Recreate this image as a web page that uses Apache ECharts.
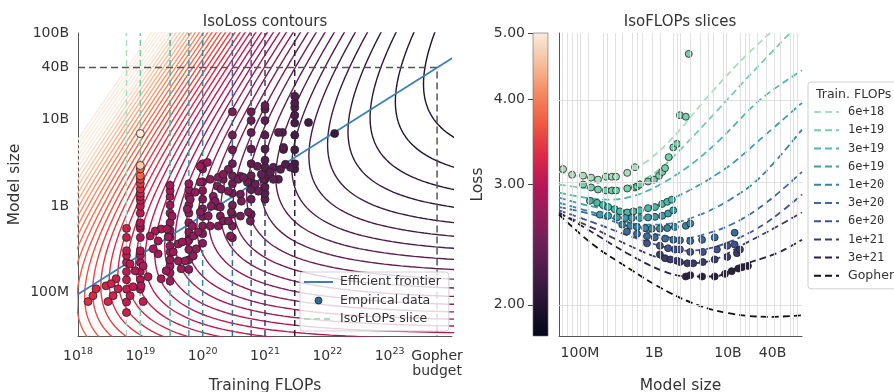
<!DOCTYPE html>
<html><head><meta charset="utf-8">
<script src="https://cdn.jsdelivr.net/npm/echarts@6/dist/echarts.min.js"></script>
<style>html,body{margin:0;padding:0;background:#fff}#c{width:894px;height:392px}</style>
</head><body><div id="c"></div>
<script>
// ---------------- DATA ----------------
const budgetLabels = ['6e+18','1e+19','3e+19','6e+19','1e+20','3e+20','6e+20','1e+21','3e+21'];
const budgetFlops = [6e18,1e19,3e19,6e19,1e20,3e20,6e20,1e21,3e21];
const gopherFlops = 5.76e23;
const gopherParams = 4e10;

// IsoFLOP slice runs: model size (millions) and final loss
const slice6e18N = [59,78,110,141,175,224,270,306,435,553];
const slice6e18L = [3.16,3.10,3.09,3.07,3.05,3.08,3.08,3.08,3.12,3.18];
const slice1e19N = [110,141,175,224,270,306,435,553,590,643,830,1000,1170,1290,1410,1580,1820,2040,2240,2690,2950,6900];
const slice1e19L = [3.00,2.97,2.95,2.94,2.94,2.94,2.96,2.97,2.98,3.00,3.03,3.05,3.09,3.13,3.17,3.29,3.40,3.44,3.79,3.77,4.66,5.40];
const slice3e19N = [136,170,204,240,295,347,435,525,643,830,1030,1290,1510,1740];
const slice3e19L = [2.84,2.82,2.80,2.78,2.76,2.74,2.73,2.74,2.75,2.77,2.78,2.81,2.83,2.85];
const slice6e19N = [186,240,316,407,501,643,830,1030,1290,1550,1820];
const slice6e19L = [2.71,2.70,2.685,2.68,2.68,2.68,2.685,2.69,2.70,2.72,2.75];
const slice1e20N = [372,479,589,759,933,1200,1510,1910,2690,3090];
const slice1e20L = [2.62,2.61,2.60,2.59,2.585,2.585,2.59,2.60,2.61,2.63];
const slice3e20N = [431,589,804,1023,1413,1820,2239,3090,4467,6607,12300];
const slice3e20L = [2.56,2.54,2.52,2.51,2.50,2.49,2.485,2.48,2.49,2.51,2.55];
const slice6e20N = [804,1200,1550,1910,2240,3090,4570,7080,9770,12300];
const slice6e20L = [2.46,2.44,2.42,2.41,2.41,2.39,2.39,2.41,2.44,2.45];
const slice1e21N = [1200,1410,1660,2040,2240,2820,3390,4570,6610,9770,13200,14500];
const slice1e21L = [2.37,2.34,2.33,2.32,2.31,2.30,2.30,2.31,2.33,2.35,2.38,2.41];
const slice3e21N = [2690,3090,4470,6610,9120,11200,13800,15500,18600];
const slice3e21L = [2.20,2.21,2.20,2.20,2.22,2.24,2.26,2.27,2.28];

// fitted IsoFLOP parabolas (read points): model size (millions), loss
const curveLabels = ['6e+18','1e+19','3e+19','6e+19','1e+20','3e+20','6e+20','1e+21','3e+21','Gopher'];
const curve6e18N = [52,100,186,405,883,1920,4890,14500,37000];
const curve6e18L = [3.13,3.08,3.06,3.11,3.27,3.54,3.99,4.54,5.0];
const curve1e19N = [52,100,218,474,1030,2245,5710,19800,68900];
const curve1e19L = [3.00,2.97,2.95,2.99,3.12,3.37,3.75,4.34,5.0];
const curve3e19N = [52,117,254,553,1205,3060,7800,27000,100000];
const curve3e19L = [2.92,2.87,2.85,2.89,3.00,3.20,3.49,3.99,4.41];
const curve6e19N = [52,136,347,755,1640,4190,10600,27000,100000];
const curve6e19L = [2.87,2.79,2.75,2.76,2.85,3.00,3.20,3.49,3.95];
const curve1e20N = [52,150,347,755,1640,4190,10600,27000,100000];
const curve1e20L = [2.82,2.73,2.66,2.62,2.63,2.71,2.85,3.07,3.61];
const curve3e20N = [52,150,431,1205,2245,5710,14500,37000,100000];
const curve3e20L = [2.78,2.71,2.61,2.53,2.50,2.55,2.66,2.85,3.13];
const curve6e20N = [52,150,431,1205,2620,5710,14500,37000,100000];
const curve6e20L = [2.75,2.64,2.53,2.44,2.40,2.42,2.51,2.66,2.90];
const curve1e21N = [52,150,431,1205,3060,6670,16000,37000,100000];
const curve1e21L = [2.72,2.59,2.45,2.34,2.30,2.33,2.45,2.57,2.73];
const curve3e21N = [52,150,431,1205,2790,6270,16000,45900,100000];
const curve3e21L = [2.73,2.55,2.38,2.25,2.20,2.20,2.29,2.38,2.49];
const curveGopherN = [52,150,431,1205,3360,9680,37000,100000];
const curveGopherL = [2.71,2.45,2.27,2.12,2.01,1.945,1.92,1.93];

// other empirical runs (left panel): FLOPs, params, loss
const extraFlops = [1.45e18,1.74e18,1.95e18,2.82e18,3.03e18,3.66e18,4.39e18,4.08e18,3.4e18,6.85e18,7.66e18,1.03e19,1.11e19,1.33e19,8.24e18,6.85e18,1.11e19,2.16e19,2.6e19,1.93e19,1.61e19,1.93e19,2.8e19,3.37e19,4.06e19,4.53e19,5.25e19,7.06e19,7.89e19,5.86e19,4.06e19,7.06e19,8.49e19,2.16e19,1.73e19,1.44e19,3.24e19,5.65e19,6.32e19,7.6e19,9.14e19,9.14e19,1.19e20,1.32e20,1.72e20,1.48e20,1.72e20,1.92e20,1.78e20,2.14e20,2.58e20,4.03e20,5.21e20,7.55e20,9.42e20,1.09e21,1.36e21,1.64e21,1.91e21,1.98e21,4.99e21,1.31e22,1.78e20,2.14e20,3.74e20,4.5e20,7.01e20,7.83e20,1.99e20,2.58e20,4.03e20,4.18e20,1.59e20,1.37e20,1.92e20,2.88e20,5.41e20,2.14e20,5.82e20,1.64e21,1.98e21,2.56e21,8.75e20,1.22e21,1.36e21,1.77e21,2.13e21,9.14e19,1.32e20,1.23e20,2.58e20,2.78e20,4.03e20,2.7e19,4.7e19,6.81e19];
const extraParams = [7.9e7,9.25e7,1.11e8,1.2e8,7.9e7,9.25e7,1.11e8,1.45e8,1.27e8,9.25e7,1.17e8,1.2e8,7.9e7,1.53e8,1.79e8,2.15e8,2.04e8,1.45e8,1.79e8,2.81e8,3.21e8,3.96e8,4.41e8,2.96e8,2.33e8,1.89e8,2.33e8,2.66e8,3.21e8,3.96e8,3.66e8,4.52e8,5.02e8,5.44e8,5.16e8,4.52e8,7.67e8,9.25e8,1.2e9,1.45e9,1.89e9,2.88e9,3.2e9,2.04e9,1.7e9,1.3e9,1.0e9,7.67e8,5.89e8,2.04e9,2.66e9,2.21e9,1.89e9,2.88e9,2.04e9,2.33e9,2.81e9,2.04e9,7.1e9,4.52e9,9.25e9,6.9e9,2.15e9,2.33e9,2.04e9,2.15e9,1.79e9,1.49e9,1.57e9,1.49e9,1.37e9,1.14e9,1.14e9,1.0e9,9.75e8,8.53e8,8.53e8,6.73e8,6.73e8,7.1e9,4.77e9,2.81e9,2.33e9,2.46e9,2.04e9,2.66e9,3.04e9,8.53e8,5.89e8,7.67e8,6.73e8,4.52e8,7.67e8,5.44e8,3.86e8,5.89e8];
const extraLoss = [3.35,3.3,3.25,3.2,3.25,3.2,3.15,3.15,3.17,3.1,3.05,3.0,3.1,2.95,3.0,3.05,2.97,2.9,2.85,2.85,2.9,2.88,2.82,2.8,2.8,2.82,2.77,2.72,2.7,2.74,2.78,2.7,2.68,2.88,2.92,2.93,2.78,2.72,2.72,2.72,2.72,2.8,2.78,2.66,2.6,2.62,2.58,2.58,2.6,2.58,2.58,2.5,2.46,2.42,2.38,2.36,2.34,2.35,2.33,2.3,2.2,2.12,2.62,2.6,2.52,2.5,2.44,2.43,2.58,2.56,2.52,2.52,2.6,2.62,2.58,2.56,2.5,2.6,2.52,2.36,2.32,2.3,2.4,2.36,2.36,2.33,2.31,2.66,2.66,2.64,2.6,2.63,2.55,2.85,2.78,2.72];

// efficient frontier end points
const frontierFlops = [1e18, 1e24];
const frontierParams = [9.6e7, 5.1e10];

// fitted parametric loss L(N,D) = E + A/N^alpha + B/D^beta, C = 6ND
const fitE = 1.69, fitA = 406.4, fitB = 410.7, fitAlpha = 0.34, fitBeta = 0.28;
// iso-loss contour levels (log-spaced)
const contourLevels = [1.905,1.950,1.995,2.042,2.089,2.138,2.188,2.239,2.291,2.344,2.399,2.455,2.512,2.570,2.630,2.692,2.754,2.818,2.884,2.951,3.020,3.090,3.162,3.236,3.311,3.388,3.467,3.548,3.631,3.715,3.802,3.890,3.981,4.074,4.169,4.266,4.365,4.467,4.571,4.677,4.786,4.898,5.012,5.129,5.248];

// tick labels
const leftXTicks = [1e18,1e19,1e20,1e21,1e22,1e23];
const leftYTickValues = [1e8,1e9,1e10,4e10,1e11];
const leftYTickLabels = ['100M','1B','10B','40B','100B'];
const rightXTickValues = [1e8,1e9,1e10,4e10];
const rightXTickLabels = ['100M','1B','10B','40B'];
const lossTicks = [2,3,4,5];
const lossMin = 1.8, lossMax = 5.0;
const contourColorMax = 4.7;
const rightGridSizesM = [57,67,78,91,100,128,205,232,297,370,505,590,688,940,1205,1800,2050,2250,3060,4200,5380,6250,8500,9600,14600,16900,19700,24500,33400,43000,50700,69000,75700,85000];

// ---------------- STYLE ----------------
const FONT = 'DejaVu Sans';
const TXT = '#333';
const rocketStops = ['#03051a','#221331','#451c47','#6a1f56','#921c5b','#b91657','#dd2c45','#ef5a41','#f4895f','#f6bf9b','#faebdd'];
const sliceColors = ['#a6dfbd','#74cfab','#4bb9aa','#3a9faa','#3585a3','#3a6b9e','#40528f','#3c3a6c','#2a2140','#111111'];

const lg = Math.log10;
function hex2rgb(h){return [parseInt(h.substr(1,2),16),parseInt(h.substr(3,2),16),parseInt(h.substr(5,2),16)];}
function rocket(t){
  t = Math.max(0, Math.min(1, t));
  const p = t * (rocketStops.length - 1), i = Math.min(Math.floor(p), rocketStops.length - 2), f = p - i;
  const a = hex2rgb(rocketStops[i]), b = hex2rgb(rocketStops[i+1]);
  return 'rgb(' + a.map((v,k)=>Math.round(v + (b[k]-v)*f)).join(',') + ')';
}
function lossColor(L, hi){ return rocket((lg(L) - lg(lossMin)) / (lg(hi || lossMax) - lg(lossMin))); }

function contourPoints(L){
  const pts = [];
  for (let i = 0; i <= 380; i++) {
    const lgN = 7.4 + i * 0.01, N = Math.pow(10, lgN);
    const rem = L - fitE - fitA / Math.pow(N, fitAlpha);
    if (rem <= 0) continue;
    const D = Math.pow(fitB / rem, 1 / fitBeta);
    const lgC = lg(6 * N * D);
    if (lgC > 26) continue;
    pts.push([lgC, lgN]);
  }
  return pts;
}

const sliceN = [slice6e18N,slice1e19N,slice3e19N,slice6e19N,slice1e20N,slice3e20N,slice6e20N,slice1e21N,slice3e21N];
const sliceL = [slice6e18L,slice1e19L,slice3e19L,slice6e19L,slice1e20L,slice3e20L,slice6e20L,slice1e21L,slice3e21L];
const curveN = [curve6e18N,curve1e19N,curve3e19N,curve6e19N,curve1e20N,curve3e20N,curve6e20N,curve1e21N,curve3e21N,curveGopherN];
const curveL = [curve6e18L,curve1e19L,curve3e19L,curve6e19L,curve1e20L,curve3e20L,curve6e20L,curve1e21L,curve3e21L,curveGopherL];

const series = [];
contourLevels.forEach((L, k) => {
  series.push({type:'line', name:'contour'+k, xAxisIndex:0, yAxisIndex:0, data:contourPoints(L),
    showSymbol:false, symbol:'none', silent:true, clip:true, z:1,
    lineStyle:{color:lossColor(L, contourColorMax), width:1.4}});
});
budgetFlops.forEach((c, i) => {
  series.push({type:'line', name: i===0 ? 'IsoFLOPs slice' : 'slice'+i, xAxisIndex:0, yAxisIndex:0,
    data:[[lg(c),7.5],[lg(c),11]], showSymbol:false, symbol:'none', silent:true, z:2,
    lineStyle:{color:sliceColors[i], width:1.5, type:[6,4]}});
});
series.push({type:'line', name:'gopher', xAxisIndex:0, yAxisIndex:0,
  data:[[18, lg(gopherParams)],[lg(gopherFlops), lg(gopherParams)],[lg(gopherFlops), 7.5]],
  showSymbol:false, symbol:'none', silent:true, z:3, lineStyle:{color:'#555', width:1.5, type:[7,4]}});
series.push({type:'line', name:'Efficient frontier', xAxisIndex:0, yAxisIndex:0,
  data: frontierFlops.map((c,i)=>[lg(c), lg(frontierParams[i])]), showSymbol:false, symbol:'none', z:3,
  lineStyle:{color:'#3a7fbd', width:1.8}});
const empPts = [];
sliceN.forEach((arr, i) => arr.forEach((n, j) => empPts.push([lg(budgetFlops[i]), lg(n*1e6), sliceL[i][j]])));
extraFlops.forEach((c, i) => empPts.push([lg(c), lg(extraParams[i]), extraLoss[i]]));
series.push({type:'scatter', name:'Empirical data', xAxisIndex:0, yAxisIndex:0, data:empPts, symbolSize:8, z:4,
  itemStyle:{color:(p)=>lossColor(p.data[2]), borderColor:'#222', borderWidth:0.8, opacity:1}});

series.push({type:'custom', name:'colorbar', xAxisIndex:1, yAxisIndex:1, data:[[0,0]], silent:true,
  renderItem:(params, api) => {
    const p0 = api.coord([0, lg(lossMax)]), p1 = api.coord([1, lg(lossMin)]);
    return {type:'rect', shape:{x:p0[0], y:p0[1], width:p1[0]-p0[0], height:p1[1]-p0[1]},
      style:{fill:new echarts.graphic.LinearGradient(0,1,0,0, rocketStops.map((c,i)=>({offset:i/(rocketStops.length-1), color:c}))), stroke:'#666', lineWidth:0.6}};
  }});

series.push({type:'line', name:'grid', xAxisIndex:2, yAxisIndex:2, data:[], silent:true,
  markLine:{silent:true, symbol:['none','none'], label:{show:false}, animation:false,
    lineStyle:{color:'#dcdcdc', width:0.9, type:'solid'},
    data: rightGridSizesM.map(m=>({xAxis:lg(m*1e6)})).concat(lossTicks.map(l=>({yAxis:lg(l)})))}});
curveN.forEach((arr, i) => {
  series.push({type:'line', name:curveLabels[i], xAxisIndex:2, yAxisIndex:2, smooth:0.35,
    data: arr.map((n,j)=>[lg(n*1e6), lg(curveL[i][j])]), showSymbol:false, symbol:'none', z:3, clip:true,
    lineStyle:{color:sliceColors[i], width:1.8, type:[7,4]}});
});
sliceN.forEach((arr, i) => {
  series.push({type:'scatter', name:'pts'+i, xAxisIndex:2, yAxisIndex:2, symbolSize:7, z:4, clip:true,
    data: arr.map((n,j)=>[lg(n*1e6), lg(sliceL[i][j])]),
    itemStyle:{color:sliceColors[i], borderColor:'#222', borderWidth:0.8, opacity:1}});
});

const supRich = {b:{fontSize:14, lineHeight:18, color:TXT, fontFamily:FONT}, s:{fontSize:9.5, lineHeight:4, verticalAlign:'top', color:TXT, fontFamily:FONT},
  g:{fontSize:14, lineHeight:18, color:TXT, fontFamily:FONT}, h:{fontSize:14, lineHeight:12, color:TXT, fontFamily:FONT}};

const option = {
  animation:false,
  backgroundColor:'#fff',
  textStyle:{fontFamily:FONT, color:TXT},
  title:[
    {text:'IsoLoss contours', left:265, top:15, textAlign:'center', padding:0, textStyle:{fontSize:15, fontWeight:'normal', color:TXT, fontFamily:FONT}},
    {text:'IsoFLOPs slices', left:680, top:15, textAlign:'center', padding:0, textStyle:{fontSize:15, fontWeight:'normal', color:TXT, fontFamily:FONT}},
    {text:'Train. FLOPs', left:816, top:88, padding:0, textStyle:{fontSize:12.5, fontWeight:'normal', color:TXT, fontFamily:FONT}}
  ],
  legend:[
    {data:[{name:'Efficient frontier'}, {name:'Empirical data', icon:'circle', itemStyle:{opacity:1, color:'#2d6c9c', borderColor:'#1a1a1a', borderWidth:0.8}}, {name:'IsoFLOPs slice'}],
     orient:'vertical', left:300, top:272, itemWidth:29, itemHeight:7, itemGap:0.5, selectedMode:false,
     padding:[1,8,3,3], backgroundColor:'rgba(255,255,255,0.8)', borderColor:'#d0d0d0', borderWidth:1, borderRadius:3,
     itemStyle:{opacity:0}, textStyle:{fontSize:12.5, color:TXT, fontFamily:FONT, lineHeight:18, padding:[0,0,0,2]}},
    {data:curveLabels, orient:'vertical', left:808, top:82, itemWidth:25, itemHeight:7, itemGap:0.2, selectedMode:false,
     padding:[21,30,4,5], backgroundColor:'rgba(255,255,255,0.9)', borderColor:'#d0d0d0', borderWidth:1, borderRadius:3,
     itemStyle:{opacity:0},
     formatter:(n)=> n==='Gopher' ? n : '{m|'+n+'}',
     textStyle:{fontSize:12.5, color:TXT, fontFamily:FONT, lineHeight:18, padding:[0,0,0,4], rich:{m:{fontFamily:'DejaVu Sans Mono', fontSize:12, color:TXT, lineHeight:18}}}}
  ],
  grid:[
    {left:78, top:33, width:374, height:303, outerBoundsMode:'none', containLabel:false},
    {left:533, top:33, width:15, height:303, outerBoundsMode:'none', containLabel:false},
    {left:559, top:33, width:243, height:303, outerBoundsMode:'none', containLabel:false}
  ],
  xAxis:[
    {type:'value', gridIndex:0, min:18, max:24, splitLine:{show:false}, axisTick:{show:false},
     axisLine:{show:true, onZero:false, lineStyle:{color:'#555', width:1}},
     axisLabel:{customValues:leftXTicks.map(lg).concat([lg(gopherFlops)]), margin:11, color:TXT,
       formatter:(v)=> Math.abs(v - lg(gopherFlops)) < 1e-6 ? '{g|Gopher}\n{h|budget}' : '{b|10}{s|'+Math.round(v)+'}', rich:supRich},
     name:'Training FLOPs', nameLocation:'middle', nameGap:42, nameMoveOverlap:false, nameTextStyle:{fontSize:15.5, color:TXT, fontFamily:FONT}},
    {type:'value', gridIndex:1, min:0, max:1, show:false},
    {type:'value', gridIndex:2, min:lg(5.2e7), max:11, splitLine:{show:false}, axisTick:{show:false},
     axisLine:{show:true, onZero:false, lineStyle:{color:'#555', width:1}},
     axisLabel:{customValues:rightXTickValues.map(lg), margin:10, fontSize:14, color:TXT,
       formatter:(v)=> rightXTickLabels[rightXTickValues.findIndex(t=>Math.abs(lg(t)-v)<1e-6)]},
     name:'Model size', nameLocation:'middle', nameGap:42, nameMoveOverlap:false, nameTextStyle:{fontSize:15.5, color:TXT, fontFamily:FONT}}
  ],
  yAxis:[
    {type:'value', gridIndex:0, min:7.5, max:11, splitLine:{show:false}, axisTick:{show:false},
     axisLine:{show:true, onZero:false, lineStyle:{color:'#555', width:1}},
     axisLabel:{customValues:leftYTickValues.map(lg), margin:9, fontSize:14, color:TXT,
       formatter:(v)=> leftYTickLabels[leftYTickValues.findIndex(t=>Math.abs(lg(t)-v)<1e-6)]},
     name:'Model size', nameLocation:'middle', nameGap:55, nameMoveOverlap:false, nameRotate:90, nameTextStyle:{fontSize:15.5, color:TXT, fontFamily:FONT}},
    {type:'value', gridIndex:1, min:lg(lossMin), max:lg(lossMax), splitLine:{show:false},
     axisLine:{show:false},
     axisTick:{show:true, customValues:lossTicks.map(lg), length:5, lineStyle:{color:'#444', width:1}},
     axisLabel:{customValues:lossTicks.map(lg), margin:8, fontSize:14, color:TXT, formatter:(v)=>Math.pow(10,v).toFixed(2)},
     name:'Loss', nameLocation:'middle', nameGap:47, nameMoveOverlap:false, nameRotate:90, nameTextStyle:{fontSize:15.5, color:TXT, fontFamily:FONT}},
    {type:'value', gridIndex:2, min:lg(lossMin), max:lg(lossMax), splitLine:{show:false}, axisTick:{show:false},
     axisLabel:{show:false}, axisLine:{show:true, onZero:false, lineStyle:{color:'#555', width:1}}}
  ],
  series: series
};
const chart = echarts.init(document.getElementById('c'), null, {renderer:'canvas'});
chart.setOption(option);
</script></body></html>
